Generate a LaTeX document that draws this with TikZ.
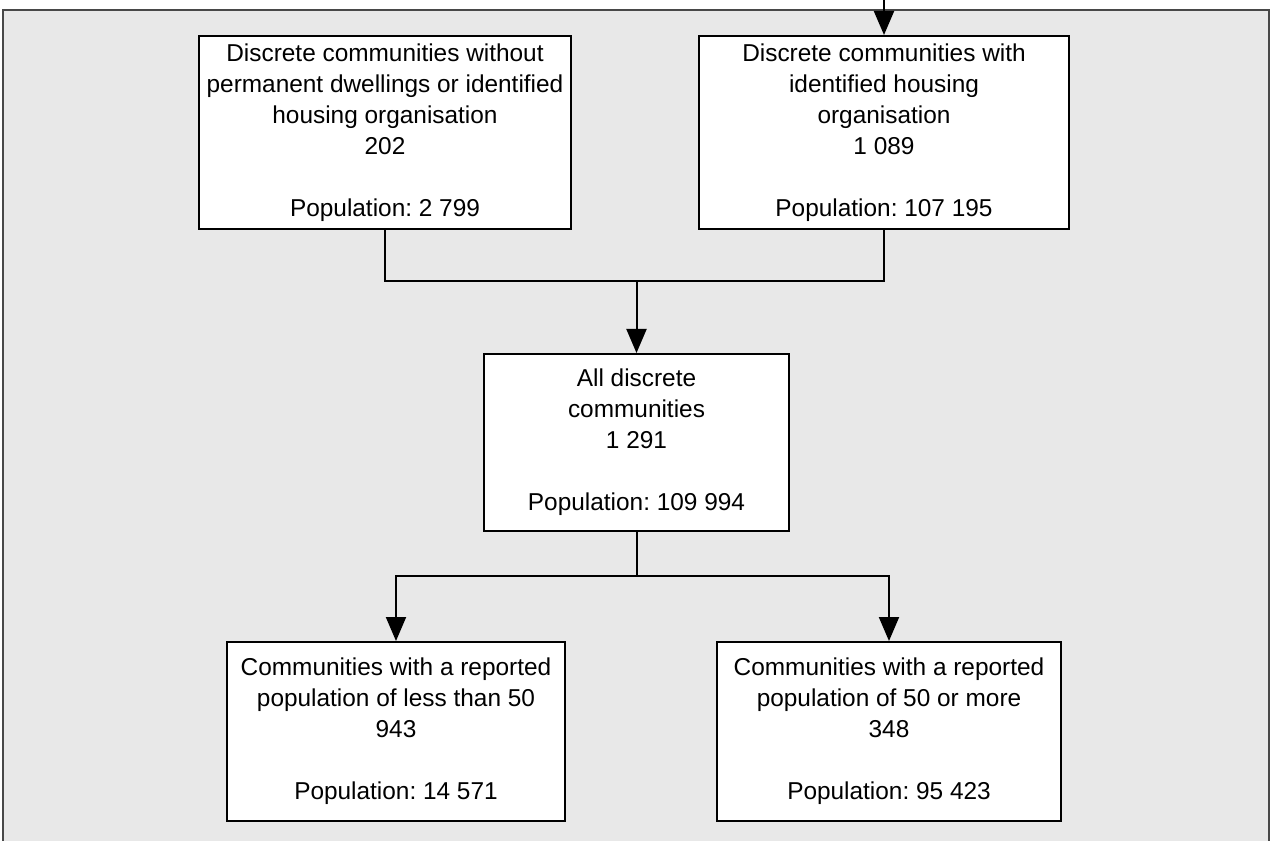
\documentclass[tikz,border=0pt]{standalone}
\usepackage{fontspec}
\setmainfont{Liberation Sans}
\usetikzlibrary{arrows.meta}
\frenchspacing
\definecolor{panelfill}{HTML}{E8E8E8}
\definecolor{panelline}{HTML}{484848}
\tikzset{
  box/.style={draw=black, line width=1.5pt, fill=white, align=center, inner sep=0pt,
    font=\fontsize{18.3pt}{23.25pt}\selectfont},
  link/.style={draw=black, line width=1.5pt},
  arr/.style={link, -{Triangle[length=18pt,width=15pt]}}
}
\begin{document}
\begin{tikzpicture}[x=0.75pt,y=-0.75pt]
\useasboundingbox (0,0) rectangle (1271,841);
\clip (0,0) rectangle (1271,841);
\fill[white] (0,0) rectangle (1271,841);
\draw[fill=panelfill, draw=panelline, line width=1.1pt] (3,10) rectangle (1269,860);

\node[box, minimum width=372*0.75pt, minimum height=193*0.75pt] (tl) at (385,132.5)
  {Discrete communities without\\permanent dwellings or identified\\housing organisation\\202\\[23.25pt]Population: 2 799};
\node[box, minimum width=370*0.75pt, minimum height=193*0.75pt] (tr) at (884,132.5)
  {Discrete communities with\\identified housing\\organisation\\1 089\\[23.25pt]Population: 107 195};
\node[box, minimum width=305*0.75pt, minimum height=177*0.75pt] (mid) at (636.5,442.5)
  {All discrete\\communities\\1 291\\[23.25pt]Population: 109 994};
\node[box, minimum width=338*0.75pt, minimum height=179*0.75pt] (bl) at (396,731.5)
  {Communities with a reported\\population of less than 50\\943\\[23.25pt]Population: 14 571};
\node[box, minimum width=344*0.75pt, minimum height=179*0.75pt] (br) at (889,731.5)
  {Communities with a reported\\population of 50 or more\\348\\[23.25pt]Population: 95 423};

\coordinate (top) at (tr.north |- 0,-5);
\coordinate (join) at (636.5,281);
\coordinate (split) at (636.5,576);

\draw[arr] (top) -- (tr.north);
\draw[link] (tl.south) |- (join) -| (tr.south);
\draw[arr] (join) -- (mid.north);
\draw[link] (mid.south) -- (split);
\draw[arr] (split) -| (bl.north);
\draw[arr] (split) -| (br.north);
\end{tikzpicture}
\end{document}
